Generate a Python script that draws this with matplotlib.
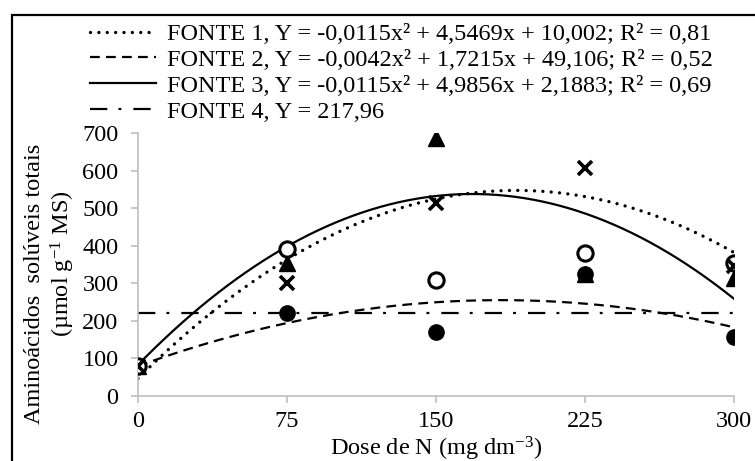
import matplotlib
matplotlib.use('Agg')
import matplotlib.pyplot as plt
import matplotlib.lines as mlines
import matplotlib.patches as mpatches
import numpy as np

plt.rcParams['font.family'] = ['Liberation Serif', 'DejaVu Serif']
plt.rcParams['mathtext.fontset'] = 'custom'
plt.rcParams['mathtext.rm'] = 'Liberation Serif'
plt.rcParams['mathtext.it'] = 'Liberation Serif:italic'

# dados
doses = [0, 75, 150, 225, 300]
fonte1 = [80, 300, 514, 608, 345]      # x, linha pontilhada
fonte2 = [80, 220, 170, 326, 156]      # circulo cheio, linha tracejada
fonte3 = [80, 353, 686, 326, 313]      # triangulo, linha continua
fonte4 = [80, 390, 309, 381, 355]      # circulo vazio
fonte4_media = 222                     # linha traco-ponto

legendas = ['FONTE 1, Y = -0,0115x² + 4,5469x + 10,002; R² = 0,81',
            'FONTE 2, Y = -0,0042x² + 1,7215x + 49,106; R² = 0,52',
            'FONTE 3, Y = -0,0115x² + 4,9856x + 2,1883; R² = 0,69',
            'FONTE 4, Y = 217,96']

W, H = 755, 461
FS = 17.5
fig = plt.figure(figsize=(W / 100, H / 100), dpi=100)
ax = fig.add_axes([138 / W, 1 - 396 / H, 596 / W, 263 / H])

estilo1 = dict(color='black', lw=2.4, linestyle=(0, (0.01, 2.5)), dash_capstyle='round')
estilo2 = dict(color='black', lw=1.6, linestyle=(0, (4.4, 2.8)))
estilo3 = dict(color='black', lw=1.6, linestyle='-')
estilo4 = dict(color='black', lw=1.6, linestyle=(0, (7.8, 5.0, 1.3, 5.4)))

# linhas de tendencia (polinomio de 2o grau ajustado aos pontos)
xx = np.linspace(0, 300, 200)
for serie, est in [(fonte1, estilo1), (fonte2, estilo2), (fonte3, estilo3)]:
    coef = np.polyfit(doses, serie, 2)
    ax.plot(xx, np.polyval(coef, xx), zorder=2, **est)
ax.plot([doses[0], doses[-1]], [fonte4_media, fonte4_media], zorder=2, **estilo4)

# pontos
ax.plot(doses, fonte3, '^', color='black', ms=11, zorder=3)
ax.plot(doses, fonte4, 'o', mfc='white', mec='black', mew=2.2, ms=11, zorder=4)
ax.plot(doses, fonte1, 'x', color='black', mew=2.6, ms=10, zorder=5)
ax.plot(doses, fonte2, 'o', color='black', ms=11, zorder=3)

ax.set_xlim(0, 300)
ax.set_ylim(0, 700)
ax.set_xticks(doses)
ax.set_yticks(range(0, 701, 100))
for s in ['top', 'right']:
    ax.spines[s].set_visible(False)
for s in ['left', 'bottom']:
    ax.spines[s].set_color('#BFBFBF')
    ax.spines[s].set_linewidth(1.2)
ax.tick_params(direction='out', length=5, width=1.2, color='#BFBFBF', labelsize=FS)
ax.tick_params(axis='x', pad=6)
ax.tick_params(axis='y', pad=9)
ax.patch.set_alpha(0)

fig.text(35 / W, 1 - 284 / H, 'Aminoácidos  solúveis totais', rotation=90,
         ha='center', va='center', fontsize=FS)
fig.text(63 / W, 1 - 264 / H, '(µmol g$^{-1}$ MS)', rotation=90,
         ha='center', va='center', fontsize=FS)
fig.text(436 / W, 1 - 455 / H, 'Dose de N (mg dm$^{-3}$)', ha='center',
         va='baseline', fontsize=FS)

handles = [mlines.Line2D([], [], **estilo1), mlines.Line2D([], [], **estilo2),
           mlines.Line2D([], [], **estilo3), mlines.Line2D([], [], **estilo4)]
fig.legend(handles, legendas, loc='upper left', bbox_to_anchor=(90 / W, 1 - 23 / H),
           frameon=False, borderpad=0, borderaxespad=0, handlelength=2.7,
           handletextpad=0.45, labelspacing=0.16, fontsize=FS)

# moldura
fig.patches.append(mpatches.Rectangle((12 / W, -0.5), 2, 1.5 - 15 / H, transform=fig.transFigure,
                                      fill=False, ec='black', lw=1.6))

fig.savefig('out.png', dpi=100)
